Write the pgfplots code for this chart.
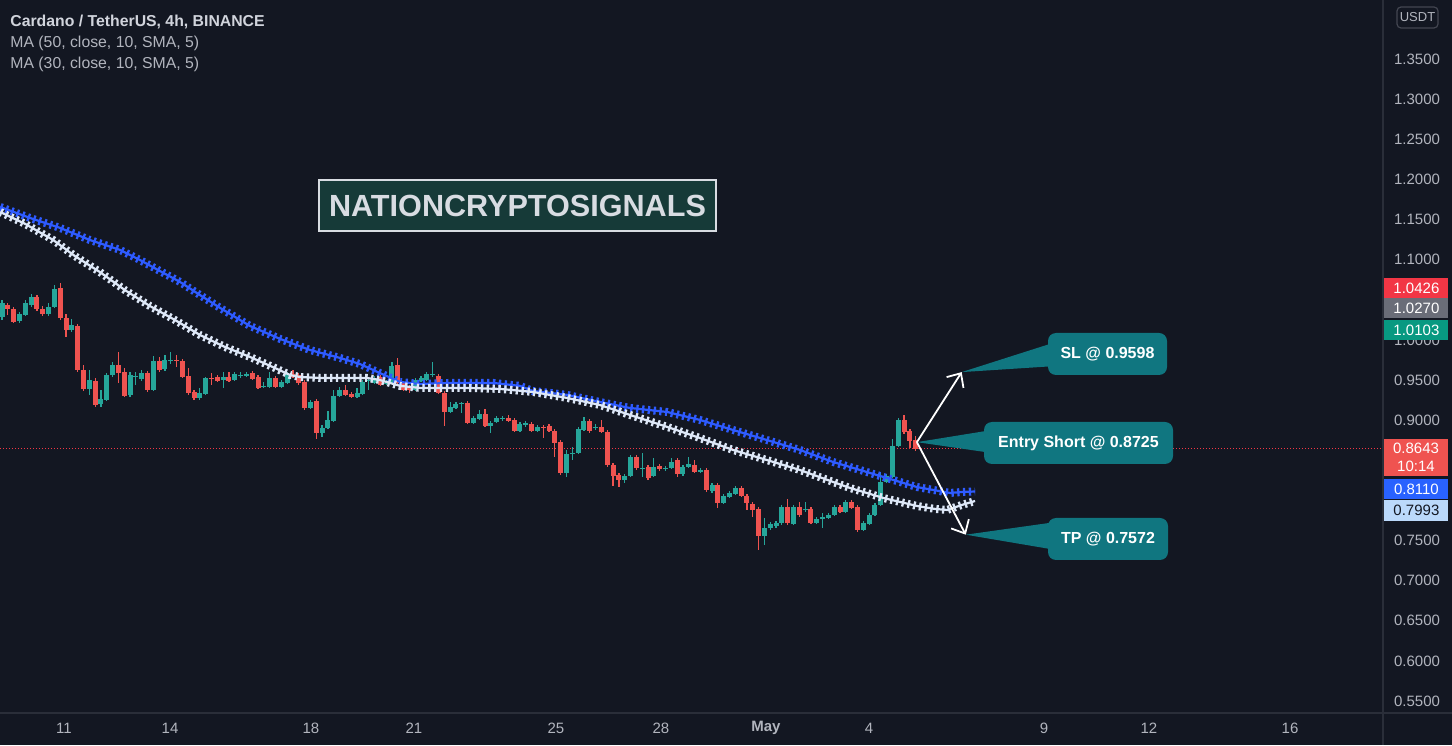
\documentclass[border=0pt]{standalone}
\usepackage{fontspec}
\setmainfont{Liberation Sans}
\usepackage{pgfplots}
\pgfplotsset{compat=1.18}
\usepackage{pgfplotstable}
\usetikzlibrary{arrows.meta}

\definecolor{bg}{HTML}{131722}
\definecolor{cgreen}{HTML}{26A69A}
\definecolor{cred}{HTML}{EF5350}
\definecolor{mablue}{HTML}{2E5BFF}
\definecolor{mawhite}{HTML}{DDE7F7}
\definecolor{txt}{HTML}{B2B5BE}
\definecolor{ttl}{HTML}{D1D4DC}
\definecolor{sep}{HTML}{2A2E39}
\definecolor{callout}{RGB}{16,118,128}
\definecolor{wmfill}{RGB}{22,58,56}
\definecolor{wmborder}{HTML}{D8DCE2}
\definecolor{lblred}{HTML}{F23645}
\definecolor{lblgray}{HTML}{6A6D78}
\definecolor{lblgreen}{HTML}{089981}
\definecolor{lblblue}{HTML}{2962FF}
\definecolor{lbllight}{HTML}{BBD9FB}
\definecolor{usdtbox}{HTML}{434651}

\newcommand\plab{\fontsize{7.5pt}{9pt}\selectfont}
\newcommand\ttlfont{\fontsize{7.9pt}{9.5pt}\selectfont}

% 4h candles: index, open, high, low, close
\pgfplotstableread{
i o h l c
0 1.0285 1.0497 1.0248 1.0460
3 1.0236 1.0347 1.0211 1.0322
4 1.0310 1.0497 1.0297 1.0460
5 1.0435 1.0571 1.0410 1.0534
8 1.0322 1.0460 1.0297 1.0410
9 1.0410 1.0684 1.0397 1.0634
12 1.0123 1.0260 1.0098 1.0186
15 0.9388 0.9625 0.9314 0.9500
17 0.9201 0.9376 0.9164 0.9263
18 0.9251 0.9587 0.9238 0.9562
19 0.9562 0.9724 0.9537 0.9687
22 0.9314 0.9600 0.9288 0.9562
23 0.9537 0.9600 0.9438 0.9550
24 0.9512 0.9625 0.9488 0.9587
26 0.9376 0.9799 0.9363 0.9737
28 0.9637 0.9812 0.9612 0.9749
29 0.9737 0.9849 0.9699 0.9749
34 0.9276 0.9401 0.9251 0.9338
35 0.9326 0.9537 0.9314 0.9525
38 0.9500 0.9600 0.9401 0.9537
40 0.9500 0.9600 0.9488 0.9575
41 0.9550 0.9600 0.9525 0.9562
42 0.9550 0.9600 0.9537 0.9575
45 0.9413 0.9475 0.9401 0.9426
46 0.9413 0.9600 0.9401 0.9525
48 0.9413 0.9500 0.9401 0.9475
49 0.9463 0.9600 0.9450 0.9575
53 0.9151 0.9251 0.9139 0.9226
55 0.8840 0.8940 0.8790 0.8902
56 0.8902 0.9114 0.8890 0.9002
57 0.8990 0.9376 0.8977 0.9301
58 0.9301 0.9413 0.9288 0.9376
61 0.9288 0.9401 0.9276 0.9338
62 0.9326 0.9500 0.9314 0.9475
63 0.9488 0.9537 0.9376 0.9500
64 0.9463 0.9550 0.9450 0.9525
66 0.9450 0.9500 0.9438 0.9463
67 0.9463 0.9724 0.9450 0.9674
71 0.9376 0.9525 0.9363 0.9500
72 0.9488 0.9550 0.9475 0.9525
73 0.9500 0.9600 0.9488 0.9575
74 0.9562 0.9724 0.9537 0.9575
77 0.9101 0.9226 0.9089 0.9164
78 0.9151 0.9226 0.9139 0.9201
79 0.9201 0.9226 0.9089 0.9214
81 0.8965 0.9052 0.8952 0.9027
82 0.9014 0.9126 0.9002 0.9076
84 0.8927 0.8990 0.8840 0.8965
85 0.8977 0.9052 0.8965 0.9027
86 0.9014 0.9052 0.8990 0.9027
89 0.8865 0.8977 0.8852 0.8952
90 0.8940 0.8990 0.8915 0.8965
92 0.8865 0.8940 0.8852 0.8915
97 0.8341 0.8628 0.8291 0.8578
98 0.8578 0.8665 0.8503 0.8591
99 0.8591 0.8915 0.8578 0.8890
100 0.8877 0.9039 0.8865 0.8990
102 0.8902 0.8952 0.8877 0.8915
107 0.8254 0.8329 0.8217 0.8304
108 0.8304 0.8565 0.8291 0.8540
110 0.8391 0.8591 0.8291 0.8403
112 0.8304 0.8528 0.8291 0.8416
114 0.8391 0.8428 0.8366 0.8403
115 0.8403 0.8528 0.8391 0.8478
117 0.8329 0.8441 0.8304 0.8416
118 0.8416 0.8540 0.8403 0.8453
120 0.8353 0.8403 0.8341 0.8378
122 0.8117 0.8217 0.8092 0.8191
124 0.7968 0.8079 0.7955 0.8054
125 0.8042 0.8117 0.8030 0.8092
126 0.8079 0.8179 0.8067 0.8154
131 0.7556 0.7780 0.7444 0.7656
132 0.7656 0.7730 0.7631 0.7706
133 0.7681 0.7743 0.7656 0.7718
134 0.7718 0.7942 0.7693 0.7918
136 0.7706 0.7942 0.7693 0.7918
138 0.7880 0.7980 0.7855 0.7893
140 0.7718 0.7793 0.7706 0.7768
141 0.7768 0.7843 0.7656 0.7793
142 0.7780 0.7843 0.7768 0.7818
143 0.7818 0.7942 0.7805 0.7918
145 0.7855 0.8005 0.7843 0.7980
148 0.7631 0.7743 0.7618 0.7718
149 0.7706 0.7843 0.7693 0.7818
150 0.7818 0.7968 0.7805 0.7942
151 0.7942 0.8341 0.7930 0.8229
152 0.8229 0.8329 0.8217 0.8304
153 0.8291 0.8765 0.8279 0.8677
154 0.8677 0.9027 0.8665 0.9002
}\greentab

\pgfplotstableread{
i o h l c
1 1.0435 1.0460 1.0310 1.0385
2 1.0385 1.0410 1.0211 1.0223
6 1.0534 1.0559 1.0360 1.0385
7 1.0385 1.0422 1.0297 1.0322
10 1.0646 1.0709 1.0248 1.0273
11 1.0273 1.0322 1.0036 1.0123
13 1.0173 1.0198 0.9600 0.9625
14 0.9625 0.9687 0.9363 0.9388
16 0.9488 0.9525 0.9164 0.9189
20 0.9687 0.9849 0.9463 0.9587
21 0.9600 0.9649 0.9288 0.9301
25 0.9587 0.9612 0.9351 0.9376
27 0.9737 0.9787 0.9600 0.9625
30 0.9749 0.9812 0.9662 0.9737
31 0.9737 0.9762 0.9525 0.9537
32 0.9550 0.9649 0.9314 0.9338
33 0.9351 0.9376 0.9251 0.9276
36 0.9525 0.9587 0.9438 0.9512
37 0.9537 0.9562 0.9475 0.9488
39 0.9537 0.9600 0.9475 0.9488
43 0.9587 0.9612 0.9500 0.9512
44 0.9537 0.9562 0.9388 0.9401
47 0.9525 0.9550 0.9401 0.9413
50 0.9575 0.9625 0.9525 0.9537
51 0.9562 0.9587 0.9438 0.9463
52 0.9475 0.9500 0.9126 0.9151
54 0.9238 0.9263 0.8765 0.8840
59 0.9376 0.9438 0.9301 0.9314
60 0.9326 0.9351 0.9276 0.9288
65 0.9537 0.9562 0.9426 0.9438
68 0.9687 0.9774 0.9450 0.9463
69 0.9463 0.9488 0.9363 0.9376
70 0.9413 0.9438 0.9338 0.9376
75 0.9550 0.9575 0.9326 0.9338
76 0.9338 0.9363 0.8927 0.9101
80 0.9214 0.9238 0.8952 0.8965
83 0.9076 0.9139 0.8915 0.8927
87 0.9027 0.9064 0.8977 0.8990
88 0.9002 0.9027 0.8852 0.8865
91 0.8952 0.8977 0.8852 0.8865
93 0.8915 0.8940 0.8777 0.8902
94 0.8927 0.8952 0.8852 0.8865
95 0.8865 0.8890 0.8540 0.8715
96 0.8727 0.8752 0.8316 0.8341
101 0.8990 0.9014 0.8840 0.8865
103 0.8915 0.9002 0.8840 0.8852
104 0.8852 0.8877 0.8416 0.8441
105 0.8441 0.8466 0.8179 0.8304
106 0.8316 0.8341 0.8166 0.8254
109 0.8540 0.8565 0.8378 0.8403
111 0.8416 0.8441 0.8254 0.8279
113 0.8428 0.8453 0.8366 0.8391
116 0.8503 0.8528 0.8291 0.8329
119 0.8441 0.8503 0.8341 0.8353
121 0.8378 0.8403 0.8104 0.8129
123 0.8191 0.8217 0.7905 0.7968
127 0.8154 0.8179 0.8042 0.8054
128 0.8054 0.8079 0.7880 0.7968
129 0.7955 0.7980 0.7793 0.7880
130 0.7893 0.7918 0.7382 0.7556
135 0.7918 0.8017 0.7693 0.7718
137 0.7918 0.7980 0.7793 0.7818
139 0.7893 0.7918 0.7706 0.7718
144 0.7918 0.7942 0.7843 0.7855
146 0.7980 0.8005 0.7893 0.7905
147 0.7918 0.7942 0.7606 0.7631
155 0.9002 0.9064 0.8827 0.8852
156 0.8865 0.8890 0.8653 0.8740
157 0.8752 0.8802 0.8615 0.8643
}\redtab

\pgfplotstableread{
i v
-0.3 1.1656
4.8 1.1519
10.0 1.1394
15.1 1.1244
20.3 1.1120
23.7 1.0995
27.1 1.0859
30.6 1.0721
34.0 1.0559
37.5 1.0397
42.6 1.0173
47.8 1.0011
52.9 0.9874
58.1 0.9774
61.5 0.9699
64.9 0.9587
68.4 0.9475
71.8 0.9450
77.0 0.9463
84.4 0.9463
89.0 0.9426
91.2 0.9363
97.1 0.9314
102.7 0.9226
107.9 0.9151
114.3 0.9101
119.9 0.9002
125.6 0.8877
131.4 0.8752
137.1 0.8628
142.8 0.8478
148.6 0.8353
154.3 0.8229
157.2 0.8166
162.9 0.8092
164.9 0.8104
167.2 0.8110
}\mafifty

\pgfplotstableread{
i v
-0.3 1.1593
4.0 1.1444
8.8 1.1244
12.5 1.1045
16.8 1.0846
21.1 1.0621
25.4 1.0422
29.7 1.0248
34.0 1.0061
38.3 0.9911
42.6 0.9787
46.9 0.9649
49.5 0.9562
51.2 0.9537
54.6 0.9525
62.7 0.9525
64.9 0.9500
68.4 0.9426
71.8 0.9401
79.9 0.9401
85.6 0.9388
91.2 0.9351
97.1 0.9276
102.7 0.9189
108.4 0.9052
114.3 0.8915
119.9 0.8777
125.6 0.8628
131.4 0.8503
137.1 0.8378
142.8 0.8229
145.7 0.8154
148.6 0.8092
151.4 0.8030
154.3 0.7980
157.2 0.7930
160.3 0.7893
162.4 0.7880
164.9 0.7942
167.2 0.7992
}\mathirty

\pgfplotsset{
  wick/.style={draw=none, mark=none, forget plot,
    error bars/.cd, y dir=both, y explicit, error mark=none,
    error bar style={draw=#1, line width=0.6pt}},
  body/.style={draw=none, mark=none, forget plot,
    error bars/.cd, y dir=both, y explicit, error mark=none,
    error bar style={draw=#1, line width=2.5pt}},
}

\begin{document}
\begin{tikzpicture}
\useasboundingbox (0,0) rectangle (726pt,372.5pt);
\fill[bg] (0,0) rectangle (726pt,372.5pt);

\begin{axis}[
  at={(0pt,16pt)}, anchor=south west,
  width=691.5pt, height=356.5pt, scale only axis,
  xmin=-0.344, xmax=237.29, ymin=0.5350, ymax=1.4235,
  axis line style={draw=none},
  major tick length=0pt,
  tick style={draw=none},
  ytick={0.55,0.6,0.65,0.7,0.75,0.9,0.95,1.0,1.1,1.15,1.2,1.25,1.3,1.35},
  yticklabels={0.5500,0.6000,0.6500,0.7000,0.7500,0.9000,0.9500,1.0000,1.1000,1.1500,1.2000,1.2500,1.3000,1.3500},
  yticklabel pos=right,
  yticklabel style={anchor=center, xshift=17pt, font=\plab, text=txt},
  xtick={10.65,28.87,53.09,70.79,95.19,113.23,131.27,148.97,179.04,197.08,221.31},
  xticklabels={11,14,18,21,25,28,\textbf{May},4,9,12,16},
  xticklabel style={anchor=center, yshift=-7.5pt, font=\plab, text=txt},
]
% current price line
\draw[lblred, line width=0.5pt, dash pattern=on 0.5pt off 1pt] (axis cs:-0.344,0.8643) -- (axis cs:237.29,0.8643);

% wicks
\addplot[wick=cgreen] table[x=i, y expr={(\thisrow{h}+\thisrow{l})/2}, y error expr={(\thisrow{h}-\thisrow{l})/2}] {\greentab};
\addplot[wick=cred] table[x=i, y expr={(\thisrow{h}+\thisrow{l})/2}, y error expr={(\thisrow{h}-\thisrow{l})/2}] {\redtab};
% bodies
\addplot[body=cgreen] table[x=i, y expr={(\thisrow{o}+\thisrow{c})/2}, y error expr={max(abs(\thisrow{o}-\thisrow{c})/2,0.0006)}] {\greentab};
\addplot[body=cred] table[x=i, y expr={(\thisrow{o}+\thisrow{c})/2}, y error expr={max(abs(\thisrow{o}-\thisrow{c})/2,0.0006)}] {\redtab};

% moving averages (plus-marker style)
\addplot[mablue, line width=1.1pt, line join=round, mark=none] table[x=i, y=v] {\mafifty};
\addplot[mablue, line width=4pt, dash pattern=on 1.15pt off 1.77pt, mark=none] table[x=i, y=v] {\mafifty};
\addplot[mawhite, line width=1.1pt, line join=round, mark=none] table[x=i, y=v] {\mathirty};
\addplot[mawhite, line width=4pt, dash pattern=on 1.15pt off 1.77pt, mark=none] table[x=i, y=v] {\mathirty};

\coordinate (pE) at (axis cs:157.2,0.8725);
\coordinate (pSL) at (axis cs:164.9,0.9598);
\coordinate (pTP) at (axis cs:165.6,0.7572);
\end{axis}

\begin{scope}[x=0.5pt, y=-0.5pt, shift={(0pt,372.5pt)}]
% separators
\draw[sep, line width=0.6pt] (0,713) -- (1452,713);
\draw[sep, line width=0.6pt] (1383,0) -- (1383,745);

% legend text
\node[anchor=base west, inner sep=0, text=ttl, font=\ttlfont\bfseries] at (10,27) {Cardano / TetherUS, 4h, BINANCE};
\node[anchor=base west, inner sep=0, text=txt, font=\ttlfont] at (10,48) {MA (50, close, 10, SMA, 5)};
\node[anchor=base west, inner sep=0, text=txt, font=\ttlfont] at (10,68.5) {MA (30, close, 10, SMA, 5)};

% watermark box
\draw[wmborder, line width=1pt, fill=wmfill] (319,180) rectangle (716,231);
\node[text=wmborder, font=\fontsize{15.3pt}{18pt}\selectfont\bfseries] at (517.5,205.5) {NATIONCRYPTOSIGNALS};

% callouts
\fill[callout] (pSL) -- (1056,342) -- (1056,366) -- cycle;
\fill[callout] (pE) -- (992,430) -- (992,453) -- cycle;
\fill[callout] (pTP) -- (1056,522) -- (1056,550) -- cycle;
\fill[callout, rounded corners=4pt] (1048,333) rectangle (1167,375);
\fill[callout, rounded corners=4pt] (984,422) rectangle (1173,464);
\fill[callout, rounded corners=4pt] (1048,518) rectangle (1168,560);
\node[text=white, font=\fontsize{8pt}{10pt}\selectfont\bfseries] at (1107.5,354) {SL @ 0.9598};
\node[text=white, font=\fontsize{8pt}{10pt}\selectfont\bfseries] at (1078.5,443) {Entry Short @ 0.8725};
\node[text=white, font=\fontsize{8pt}{10pt}\selectfont\bfseries] at (1108,539) {TP @ 0.7572};

% arrows
\draw[white, line width=0.9pt, -{Straight Barb[length=5.5pt,width=10pt]}] (pE) -- (pSL);
\draw[white, line width=0.9pt, -{Straight Barb[length=5.5pt,width=10pt]}] (pE) -- (pTP);

% USDT box
\draw[usdtbox, line width=0.6pt, rounded corners=2pt] (1397,7) rectangle (1438,28);
\node[text=txt, font=\fontsize{6.5pt}{8pt}\selectfont] at (1417.5,17.5) {USDT};

% price scale labels
\node[fill=lblred, text=white, anchor=west, minimum width=32pt, minimum height=10pt, inner sep=0pt, font=\plab] at (1384,288.5) {1.0426};
\node[fill=lblgray, text=white, anchor=west, minimum width=32pt, minimum height=10pt, inner sep=0pt, font=\plab] at (1384,308.5) {1.0270};
\node[fill=lblgreen, text=white, anchor=west, minimum width=32pt, minimum height=10pt, inner sep=0pt, font=\plab] at (1384,330.5) {1.0103};
\fill[cred] (1384,439) rectangle (1448,476);
\node[text=white, font=\plab] at (1416,448.5) {0.8643};
\node[text=white, font=\plab] at (1416,466.5) {10:14};
\node[fill=lblblue, text=white, anchor=west, minimum width=32pt, minimum height=10pt, inner sep=0pt, font=\plab] at (1384,489.5) {0.8110};
\node[fill=lbllight, text=bg, anchor=west, minimum width=32pt, minimum height=10.5pt, inner sep=0pt, font=\plab] at (1384,510.5) {0.7993};
\end{scope}
\end{tikzpicture}
\end{document}
